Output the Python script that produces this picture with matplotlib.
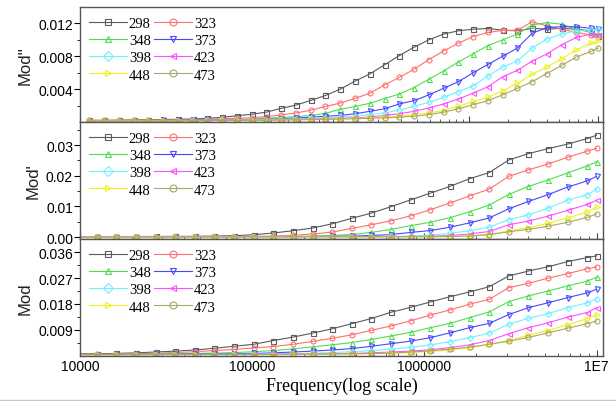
import matplotlib
matplotlib.use('Agg')
import matplotlib.pyplot as plt
from matplotlib.ticker import FixedLocator, NullFormatter
from matplotlib.lines import Line2D

plt.rcParams['font.family'] = 'Liberation Sans'

# frequency points (Hz), same sweep for all three panels
freq = [1180, 1534, 1995, 2593, 3371, 4382, 5697, 7406, 9628, 12520,
        16270, 21150, 27500, 35750, 46470, 60410, 78540, 102100, 132700, 172500,
        224300, 291600, 379100, 492800, 640600, 832800, 1083000, 1407000, 1830000, 2379000,
        3092000, 4020000, 5226000, 6794000, 8830000, 10000000]

temps = ['298', '323', '348', '373', '398', '423', '448', '473']

# Mod''
mod_pp = [
    [0.0002, 0.0002, 0.00022, 0.00025, 0.00028, 0.0003, 0.00033, 0.00037, 0.00045, 0.00057,
     0.00075, 0.00095, 0.0012, 0.00166, 0.00206, 0.00262, 0.00323, 0.0040, 0.00497, 0.00585,
     0.00695, 0.00808, 0.0091, 0.0100, 0.0107, 0.0111, 0.0113, 0.01138, 0.01118, 0.0111,
     0.0114, 0.0113, 0.0114, 0.0113, 0.0111, 0.0105],
    [0.0002, 0.0002, 0.0002, 0.00022, 0.00024, 0.00026, 0.00028, 0.0003, 0.00034, 0.00038,
     0.00045, 0.00052, 0.00065, 0.00085, 0.0011, 0.00143, 0.0019, 0.0023, 0.00287, 0.0035,
     0.0045, 0.00543, 0.00642, 0.0076, 0.00864, 0.0096, 0.0104, 0.0109, 0.01115, 0.01117,
     0.0122, 0.0117, 0.0113, 0.0109, 0.0106, 0.0104],
    [0.00018, 0.00018, 0.00018, 0.0002, 0.0002, 0.00021, 0.00022, 0.00023, 0.00024, 0.00025,
     0.0003, 0.00036, 0.00045, 0.00055, 0.00065, 0.0008, 0.00105, 0.00155, 0.0019, 0.00227,
     0.00285, 0.0034, 0.0042, 0.0052, 0.0062, 0.0073, 0.0083, 0.0093, 0.0100, 0.0107,
     0.0118, 0.0121, 0.0119, 0.0113, 0.0109, 0.0107],
    [0.00016, 0.00016, 0.00017, 0.00017, 0.00018, 0.00019, 0.0002, 0.00021, 0.00022, 0.00024,
     0.00026, 0.00029, 0.00033, 0.0004, 0.00048, 0.00058, 0.0007, 0.0008, 0.001, 0.0013,
     0.0016, 0.0022, 0.0026, 0.0033, 0.0041, 0.0049, 0.006, 0.007, 0.008, 0.009,
     0.0108, 0.0115, 0.0116, 0.0116, 0.0114, 0.0113],
    [0.00015, 0.00015, 0.00016, 0.00016, 0.00017, 0.00017, 0.00018, 0.00019, 0.0002, 0.00021,
     0.00023, 0.00025, 0.00028, 0.00033, 0.00038, 0.00045, 0.00053, 0.0006, 0.0007, 0.0009,
     0.0011, 0.00145, 0.0019, 0.0024, 0.003, 0.0037, 0.0044, 0.0056, 0.0067, 0.0074,
     0.009, 0.0101, 0.0107, 0.0111, 0.0112, 0.0113],
    [0.00014, 0.00014, 0.00015, 0.00015, 0.00016, 0.00016, 0.00017, 0.00018, 0.00019, 0.0002,
     0.00021, 0.00023, 0.00025, 0.00028, 0.00031, 0.00035, 0.0004, 0.00045, 0.0005, 0.0006,
     0.0008, 0.001, 0.0013, 0.0017, 0.0022, 0.0028, 0.0035, 0.0043, 0.0055, 0.0063,
     0.0074, 0.0083, 0.0094, 0.0103, 0.0107, 0.0106],
    [0.00013, 0.00013, 0.00014, 0.00014, 0.00015, 0.00015, 0.00016, 0.00017, 0.00018, 0.00019,
     0.0002, 0.00021, 0.00023, 0.00025, 0.00028, 0.00031, 0.00035, 0.0004, 0.00045, 0.0005,
     0.0006, 0.0007, 0.0009, 0.0011, 0.0014, 0.0019, 0.0025, 0.003, 0.0038, 0.0047,
     0.0058, 0.0067, 0.0077, 0.0088, 0.0096, 0.0099],
    [0.00012, 0.00012, 0.00013, 0.00013, 0.00014, 0.00014, 0.00015, 0.00016, 0.00017, 0.00018,
     0.00019, 0.0002, 0.00022, 0.00024, 0.00026, 0.00029, 0.00032, 0.00036, 0.0004, 0.00045,
     0.0005, 0.0006, 0.0007, 0.0009, 0.0012, 0.0016, 0.0021, 0.0026, 0.0033, 0.0041,
     0.0049, 0.0059, 0.0069, 0.0079, 0.0086, 0.009],
]

# Mod'
mod_p = [
    [0.0001, 0.0001, 0.0001, 0.0001, 0.0001, 0.0001, 0.0001, 0.0001, 0.0001, 0.00012,
     0.00014, 0.00016, 0.00018, 0.0002, 0.00022, 0.0003, 0.00042, 0.00075, 0.0013, 0.00205,
     0.00293, 0.0043, 0.0061, 0.0078, 0.0099, 0.0121, 0.0143, 0.0165, 0.019, 0.021,
     0.0251, 0.0272, 0.0288, 0.0303, 0.0321, 0.0332],
    [0.0001, 0.0001, 0.0001, 0.0001, 0.0001, 0.0001, 0.0001, 0.0001, 0.0001, 0.0001,
     0.0001, 0.0001, 0.0001, 0.0001, 0.0001, 0.00012, 0.00015, 0.0002, 0.0003, 0.0005,
     0.001, 0.0016, 0.0028, 0.004, 0.0053, 0.0069, 0.0089, 0.0111, 0.0134, 0.0156,
     0.0198, 0.0219, 0.0238, 0.026, 0.028, 0.0289],
    [0.0001, 0.0001, 0.0001, 0.0001, 0.0001, 0.0001, 0.0001, 0.0001, 0.0001, 0.0001,
     0.0001, 0.0001, 0.0001, 0.0001, 0.0001, 0.0001, 0.00012, 0.00014, 0.00017, 0.0002,
     0.0003, 0.0005, 0.0008, 0.0015, 0.0025, 0.0037, 0.0048, 0.0063, 0.0082, 0.0104,
     0.0139, 0.0165, 0.0186, 0.0209, 0.0232, 0.0245],
    [0.0001, 0.0001, 0.0001, 0.0001, 0.0001, 0.0001, 0.0001, 0.0001, 0.0001, 0.0001,
     0.0001, 0.0001, 0.0001, 0.0001, 0.0001, 0.0001, 0.0001, 0.0001, 0.0001, 0.0001,
     0.00015, 0.0002, 0.0003, 0.0005, 0.0008, 0.0015, 0.0021, 0.0032, 0.0046, 0.0062,
     0.0092, 0.0116, 0.0138, 0.0163, 0.0183, 0.0198],
    [0.0001, 0.0001, 0.0001, 0.0001, 0.0001, 0.0001, 0.0001, 0.0001, 0.0001, 0.0001,
     0.0001, 0.0001, 0.0001, 0.0001, 0.0001, 0.0001, 0.0001, 0.0001, 0.0001, 0.0001,
     0.0001, 0.0001, 0.00012, 0.00015, 0.0002, 0.0003, 0.0006, 0.0012, 0.002, 0.0032,
     0.0057, 0.0072, 0.0094, 0.012, 0.0138, 0.0155],
    [0.0001, 0.0001, 0.0001, 0.0001, 0.0001, 0.0001, 0.0001, 0.0001, 0.0001, 0.0001,
     0.0001, 0.0001, 0.0001, 0.0001, 0.0001, 0.0001, 0.0001, 0.0001, 0.0001, 0.0001,
     0.0001, 0.0001, 0.0001, 0.0001, 0.00012, 0.00015, 0.0002, 0.0005, 0.001, 0.0018,
     0.004, 0.0052, 0.0068, 0.0087, 0.0106, 0.012],
    [0.0001, 0.0001, 0.0001, 0.0001, 0.0001, 0.0001, 0.0001, 0.0001, 0.0001, 0.0001,
     0.0001, 0.0001, 0.0001, 0.0001, 0.0001, 0.0001, 0.0001, 0.0001, 0.0001, 0.0001,
     0.0001, 0.0001, 0.0001, 0.0001, 0.0001, 0.0001, 0.00012, 0.00015, 0.0003, 0.0008,
     0.002, 0.003, 0.0045, 0.0062, 0.0082, 0.0097],
    [0.0001, 0.0001, 0.0001, 0.0001, 0.0001, 0.0001, 0.0001, 0.0001, 0.0001, 0.0001,
     0.0001, 0.0001, 0.0001, 0.0001, 0.0001, 0.0001, 0.0001, 0.0001, 0.0001, 0.0001,
     0.0001, 0.0001, 0.0001, 0.0001, 0.0001, 0.0001, 0.00012, 0.00015, 0.0003, 0.0008,
     0.0017, 0.0025, 0.0035, 0.0048, 0.0064, 0.0075],
]

# Mod
mod_abs = [
    [0.0004, 0.0004, 0.0004, 0.0004, 0.00045, 0.00045, 0.0005, 0.0005, 0.00055, 0.0006,
     0.0007, 0.0009, 0.0012, 0.0015, 0.0019, 0.0025, 0.0032, 0.0039, 0.0052, 0.0064,
     0.0078, 0.0093, 0.0111, 0.0129, 0.0151, 0.0168, 0.0187, 0.0205, 0.0222, 0.024,
     0.0278, 0.0295, 0.031, 0.0328, 0.0342, 0.0348],
    [0.0003, 0.0003, 0.0003, 0.0003, 0.00032, 0.00034, 0.00036, 0.00038, 0.0004, 0.0004,
     0.0005, 0.0006, 0.0008, 0.001, 0.0013, 0.0017, 0.0021, 0.0026, 0.0031, 0.0039,
     0.0049, 0.006, 0.0072, 0.0088, 0.0103, 0.0121, 0.0141, 0.0159, 0.0179, 0.0196,
     0.0237, 0.0252, 0.027, 0.0286, 0.0303, 0.0309],
    [0.0003, 0.0003, 0.0003, 0.0003, 0.0003, 0.0003, 0.0003, 0.0003, 0.00032, 0.00035,
     0.0004, 0.00045, 0.0005, 0.0006, 0.0007, 0.0008, 0.001, 0.0013, 0.0017, 0.0023,
     0.003, 0.0037, 0.0045, 0.0056, 0.0068, 0.0081, 0.0097, 0.0112, 0.0132, 0.0152,
     0.0188, 0.0208, 0.0225, 0.0243, 0.026, 0.0273],
    [0.0003, 0.0003, 0.0003, 0.0003, 0.0003, 0.0003, 0.0003, 0.0003, 0.0003, 0.0003,
     0.0003, 0.0003, 0.00035, 0.0004, 0.00045, 0.0005, 0.0006, 0.0007, 0.0009, 0.0012,
     0.0015, 0.0019, 0.0024, 0.0032, 0.0041, 0.005, 0.0062, 0.0079, 0.0097, 0.0112,
     0.0143, 0.0167, 0.0184, 0.0202, 0.0219, 0.0231],
    [0.0003, 0.0003, 0.0003, 0.0003, 0.0003, 0.0003, 0.0003, 0.0003, 0.0003, 0.0003,
     0.0003, 0.0003, 0.0003, 0.0003, 0.0003, 0.00035, 0.0004, 0.00045, 0.0005, 0.0006,
     0.0008, 0.001, 0.0013, 0.0017, 0.0022, 0.0028, 0.0037, 0.0048, 0.0062, 0.0078,
     0.0109, 0.013, 0.0146, 0.0167, 0.0184, 0.0198],
    [0.0003, 0.0003, 0.0003, 0.0003, 0.0003, 0.0003, 0.0003, 0.0003, 0.0003, 0.0003,
     0.0003, 0.0003, 0.0003, 0.0003, 0.0003, 0.0003, 0.0003, 0.00035, 0.0004, 0.00045,
     0.0005, 0.0006, 0.0007, 0.0009, 0.0012, 0.0015, 0.002, 0.0027, 0.0037, 0.0052,
     0.0076, 0.0097, 0.0114, 0.0134, 0.015, 0.0167],
    [0.0003, 0.0003, 0.0003, 0.0003, 0.0003, 0.0003, 0.0003, 0.0003, 0.0003, 0.0003,
     0.0003, 0.0003, 0.0003, 0.0003, 0.0003, 0.0003, 0.0003, 0.0003, 0.0003, 0.00035,
     0.0004, 0.00045, 0.0005, 0.0006, 0.0008, 0.001, 0.0014, 0.0019, 0.0027, 0.0038,
     0.0052, 0.0071, 0.0087, 0.0108, 0.0128, 0.0143],
    [0.0003, 0.0003, 0.0003, 0.0003, 0.0003, 0.0003, 0.0003, 0.0003, 0.0003, 0.0003,
     0.0003, 0.0003, 0.0003, 0.0003, 0.0003, 0.0003, 0.0003, 0.0003, 0.00035, 0.0004,
     0.00045, 0.0005, 0.0006, 0.0007, 0.0008, 0.0012, 0.0016, 0.0022, 0.0029, 0.0039,
     0.005, 0.0063, 0.0079, 0.0095, 0.0111, 0.012],
]

colors = ['#5a5a5a', '#ff7070', '#50dd50', '#4848ff', '#70f0ff', '#ff50ff', '#f0f020', '#aaa860']
markers = ['s', 'o', '^', 'v', 'D', '<', '>', 'o']

fig = plt.figure(figsize=(6.16, 4.02), dpi=100)
L, W = 80 / 616, 523 / 616
ax1 = fig.add_axes([L, 1 - 123 / 402, W, 115 / 402])
ax2 = fig.add_axes([L, 1 - 240 / 402, W, 117 / 402])
ax3 = fig.add_axes([L, 1 - 357 / 402, W, 117 / 402])

# legend reads row by row: 298 323 / 348 373 / ...
leg_order = [0, 2, 4, 6, 1, 3, 5, 7]

panels = [(ax1, mod_pp, "Mod''"), (ax2, mod_p, "Mod'"), (ax3, mod_abs, 'Mod')]
for ax, vals, lab in panels:
    lines = []
    for i in range(len(temps)):
        ln, = ax.plot(freq, vals[i], color=colors[i], marker=markers[i],
                      ms=3.6 if markers[i] != 'D' else 3.0,
                      mfc='none', mew=0.8, lw=0.8, label=temps[i])
        lines.append(ln)
    ax.set_xscale('log')
    ax.set_ylabel(lab, fontsize=12, labelpad=4, color='#222222')
    ax.tick_params(axis='x', which='major', direction='in', length=4, width=0.8, colors='#444444')
    ax.tick_params(axis='x', which='minor', direction='in', length=2, width=0.6, colors='#444444')
    ax.tick_params(axis='y', which='major', direction='out', length=4, width=0.8, labelsize=10, pad=1)
    ax.tick_params(axis='y', which='minor', direction='out', length=2, width=0.6)
    for s in ax.spines.values():
        s.set_color('#555555')
        s.set_linewidth(1.0)
    ax.xaxis.set_minor_locator(FixedLocator([m * 10 ** e for e in range(2, 8) for m in range(2, 10)]))
    ax.xaxis.set_minor_formatter(NullFormatter())
    leg = ax.legend([lines[j] for j in leg_order], [temps[j] for j in leg_order],
                    loc='upper left', ncol=2, frameon=False,
                    prop={'family': 'Liberation Serif', 'size': 10.5},
                    handlelength=2.6, handletextpad=0.1, columnspacing=0.25,
                    labelspacing=0.28, borderaxespad=0.25, bbox_to_anchor=(0.0, 1.0))
    for h in leg.get_lines():
        h.set_markersize(5)

ax1.set_xlim(1110, 1.09e7)
ax1.set_xticks([1e3, 1e4, 1e5, 1e6, 1e7])
ax1.tick_params(axis='x', labelbottom=False)
ax1.set_ylim(0, 0.014)
ax1.set_yticks([0.004, 0.008, 0.012])
ax1.set_yticklabels(['0.004', '0.008', '0.012'])
ax1.yaxis.set_minor_locator(FixedLocator([0.002, 0.006, 0.010]))

ax2.set_xlim(1e4, 1.09e7)
ax2.set_xticks([1e4, 1e5, 1e6, 1e7])
ax2.tick_params(axis='x', labelbottom=False)
ax2.set_ylim(-0.00065, 0.0375)
ax2.set_yticks([0.0, 0.01, 0.02, 0.03])
ax2.set_yticklabels(['0.00', '0.01', '0.02', '0.03'])
ax2.yaxis.set_minor_locator(FixedLocator([0.005, 0.015, 0.025, 0.035]))

ax3.set_xlim(1e4, 1.09e7)
ax3.set_xticks([1e4, 1e5, 1e6, 1e7])
ax3.set_xticklabels(['10000', '100000', '1000000', '1E7'], fontsize=10)
ax3.tick_params(axis='x', which='major', pad=2, labelcolor='black')
ax3.set_ylim(-0.0002, 0.0407)
ax3.set_yticks([0.009, 0.018, 0.027, 0.036])
ax3.set_yticklabels(['0.009', '0.018', '0.027', '0.036'])
ax3.yaxis.set_minor_locator(FixedLocator([0.0045, 0.0135, 0.0225, 0.0315]))
ax3.set_xlabel('Frequency(log scale)', family='Liberation Serif', fontsize=13, labelpad=3)

fig.add_artist(Line2D([0, 1], [1.5 / 402, 1.5 / 402], color='#c8c8c8', lw=1.0))

fig.savefig('out.png', dpi=100)
